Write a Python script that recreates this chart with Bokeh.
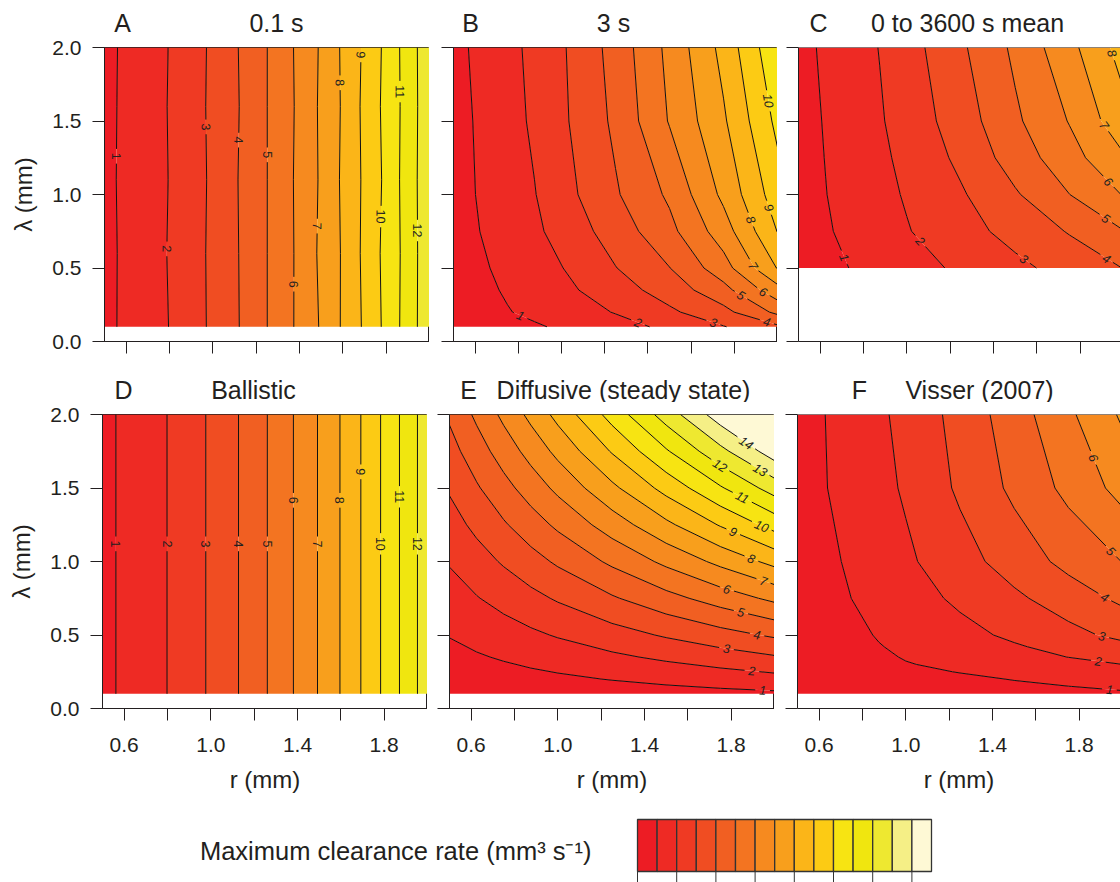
import numpy as np
from contourpy import contour_generator
from bokeh.plotting import figure
from bokeh.layouts import column, row
from bokeh.models import Range1d, FixedTicker, CustomJSTickFormatter, Span
from bokeh.core.properties import value
from bokeh.embed import file_html
from bokeh.resources import INLINE

# ---------------------------------------------------------------- data
CB_LEVELS = list(range(0, 16))
PALETTE = ["#ED1C24", "#EE2A24", "#EF3A23", "#F04D22", "#F15F22", "#F37421",
           "#F68A1F", "#F89F1C", "#FBB518", "#FCCB14", "#F7E412", "#F0E60F",
           "#EEE830", "#F5EF86", "#FEF9D5"]
FILL_LEVELS = list(range(0, 15)) + [20]
LINE_LEVELS = list(range(1, 15))

X_TICKS = [0.6, 0.8, 1.0, 1.2, 1.4, 1.6, 1.8, 2.0]
Y_TICKS = [0.0, 0.5, 1.0, 1.5, 2.0]

R16 = [0.5, 0.6, 0.7, 0.8, 0.9, 1.0, 1.1, 1.2, 1.3, 1.4, 1.5, 1.6, 1.7, 1.8, 1.9, 2.0]
R9 = [0.5, 0.625, 0.75, 0.875, 1.0, 1.25, 1.5, 1.75, 2.0]

# A: 0.1 s
A_LAM = [0.1, 0.6, 1.1, 1.6, 2.0]
A_Z = [
    [0.80, 1.15, 1.57, 2.02, 2.58, 3.18, 3.83, 4.60, 5.38, 6.22, 7.10, 8.12, 9.15, 10.25, 11.45, 12.70],
    [0.80, 1.14, 1.58, 2.06, 2.55, 3.22, 3.86, 4.58, 5.40, 6.21, 7.20, 8.10, 9.22, 10.30, 11.38, 12.75],
    [0.81, 1.16, 1.56, 2.03, 2.60, 3.16, 3.88, 4.62, 5.36, 6.25, 7.13, 8.16, 9.17, 10.22, 11.48, 12.68],
    [0.80, 1.15, 1.59, 2.05, 2.57, 3.21, 3.84, 4.57, 5.41, 6.19, 7.17, 8.11, 9.23, 10.28, 11.40, 12.72],
    [0.79, 1.14, 1.57, 2.03, 2.59, 3.17, 3.87, 4.61, 5.37, 6.24, 7.12, 8.15, 9.16, 10.24, 11.46, 12.69],
]

# B: 3 s
B_LAM = [0.1, 0.2, 0.35, 0.5, 0.75, 1.0, 1.5, 2.0]
B_Z = [
    [0.25, 0.38, 0.63, 0.88, 1.14, 1.64, 2.21, 2.95, 3.82],
    [0.40, 0.67, 0.95, 1.22, 1.49, 2.05, 2.82, 3.70, 5.23],
    [0.46, 0.78, 1.10, 1.42, 1.74, 2.55, 3.45, 4.67, 6.64],
    [0.50, 0.87, 1.24, 1.60, 1.97, 2.97, 3.98, 5.58, 8.05],
    [0.60, 1.01, 1.42, 1.82, 2.33, 3.46, 4.72, 6.53, 9.03],
    [0.65, 1.08, 1.52, 1.96, 2.61, 3.89, 5.17, 7.23, 9.55],
    [0.65, 1.14, 1.63, 2.16, 2.81, 4.20, 6.07, 7.86, 10.25],
    [0.73, 1.22, 1.71, 2.25, 2.87, 4.37, 6.27, 8.31, 10.85],
]

# C: 0 to 3600 s mean
C_LAM = [0.5, 0.75, 1.0, 1.25, 1.5, 2.0]
C_Z = [
    [0.48, 0.76, 1.04, 1.32, 1.60, 2.17, 2.76, 3.37, 4.02],
    [0.56, 0.90, 1.25, 1.60, 1.94, 2.63, 3.33, 4.07, 4.97],
    [0.61, 0.98, 1.35, 1.72, 2.09, 2.89, 3.89, 4.99, 6.05],
    [0.63, 1.02, 1.42, 1.81, 2.24, 3.22, 4.46, 5.62, 6.89],
    [0.64, 1.06, 1.48, 1.91, 2.40, 3.50, 4.83, 6.05, 7.67],
    [0.71, 1.15, 1.59, 2.03, 2.58, 3.84, 5.20, 6.70, 8.42],
]

# D: ballistic
D_LAM = [0.1, 2.0]
D_ROW = [0.79, 1.13, 1.54, 2.01, 2.54, 3.14, 3.80, 4.52, 5.31, 6.16, 7.07, 8.04, 9.08, 10.18, 11.34, 12.57]
D_Z = [D_ROW, D_ROW]

# E: diffusive (steady state)
E_LAM = [0.1, 0.2, 0.35, 0.5, 0.75, 1.0, 1.25, 1.5, 1.75, 2.0]
E_Z = [
    [0.21, 0.26, 0.31, 0.36, 0.42, 0.52, 0.62, 0.73, 0.83],
    [0.42, 0.52, 0.62, 0.73, 0.83, 1.04, 1.25, 1.45, 1.66],
    [0.73, 0.91, 1.09, 1.27, 1.45, 1.82, 2.18, 2.54, 2.91],
    [1.04, 1.30, 1.56, 1.82, 2.08, 2.59, 3.11, 3.63, 4.15],
    [1.56, 1.95, 2.33, 2.72, 3.11, 3.89, 4.67, 5.45, 6.23],
    [2.08, 2.59, 3.11, 3.63, 4.15, 5.19, 6.23, 7.26, 8.30],
    [2.59, 3.24, 3.89, 4.54, 5.19, 6.48, 7.78, 9.08, 10.38],
    [3.11, 3.89, 4.67, 5.45, 6.23, 7.78, 9.34, 10.89, 12.45],
    [3.63, 4.54, 5.45, 6.35, 7.26, 9.08, 10.89, 12.71, 14.53],
    [4.15, 5.19, 6.23, 7.26, 8.30, 10.38, 12.45, 14.53, 16.60],
]

# F: Visser (2007)
F_LAM = [0.1, 0.15, 0.2, 0.25, 0.3, 0.35, 0.42, 0.5, 0.75, 1.0, 1.5, 2.0]
F_Z = [
    [0.18, 0.24, 0.30, 0.35, 0.40, 0.52, 0.64, 0.76, 0.88],
    [0.20, 0.27, 0.34, 0.41, 0.48, 0.64, 0.82, 0.99, 1.15],
    [0.23, 0.28, 0.37, 0.46, 0.57, 0.80, 1.04, 1.26, 1.48],
    [0.27, 0.37, 0.49, 0.62, 0.755, 1.04, 1.27, 1.50, 1.73],
    [0.28, 0.40, 0.55, 0.73, 0.95, 1.21, 1.47, 1.74, 2.00],
    [0.29, 0.43, 0.62, 0.84, 1.06, 1.38, 1.70, 2.01, 2.34],
    [0.31, 0.48, 0.70, 0.96, 1.16, 1.53, 1.90, 2.31, 2.72],
    [0.35, 0.55, 0.79, 1.06, 1.27, 1.71, 2.18, 2.70, 3.27],
    [0.44, 0.69, 1.005, 1.29, 1.58, 2.18, 2.81, 3.51, 4.21],
    [0.50, 0.79, 1.13, 1.48, 1.83, 2.61, 3.45, 4.28, 5.02],
    [0.60, 0.96, 1.33, 1.71, 2.12, 3.16, 4.21, 5.26, 6.34],
    [0.62, 0.99, 1.41, 1.82, 2.29, 3.34, 4.53, 5.81, 7.15],
]

# where each contour label sits (r, lambda)
A_LABELS = {1: (0.557, 1.26), 2: (0.79, 0.63), 3: (0.975, 1.46), 4: (1.115, 1.37), 5: (1.25, 1.27),
            6: (1.375, 0.39), 7: (1.483, 0.785), 8: (1.587, 1.76), 9: (1.683, 1.95), 10: (1.775, 0.85),
            11: (1.862, 1.70), 12: (1.943, 0.755)}
B_LABELS = {1: (0.809, 0.171), 2: (1.351, 0.118), 3: (1.70, 0.114), 4: (1.95, 0.13), 5: (1.814, 0.273),
            6: (1.925, 0.314), 7: (1.884, 0.512), 8: (1.86, 0.82), 9: (1.94, 0.90), 10: (1.93, 1.63)}
C_LABELS = {1: (0.708, 0.57), 2: (1.071, 0.695), 3: (1.544, 0.57), 4: (1.92, 0.56), 5: (1.915, 0.83),
            6: (1.925, 1.08), 7: (1.92, 1.48), 8: (1.946, 1.96)}
D_LABELS = {1: (0.56, 1.12), 2: (0.8, 1.12), 3: (0.975, 1.12), 4: (1.128, 1.12), 5: (1.262, 1.12),
            6: (1.382, 1.416), 7: (1.493, 1.12), 8: (1.597, 1.416), 9: (1.692, 1.61), 10: (1.785, 1.12),
            11: (1.869, 1.44), 12: (1.954, 1.12)}
E_LABELS = {1: (1.945, 0.117), 2: (1.895, 0.243), 3: (1.777, 0.391), 4: (1.918, 0.489), 5: (1.842, 0.636),
            6: (1.777, 0.795), 7: (1.945, 0.85), 8: (1.888, 1.0), 9: (1.803, 1.18), 10: (1.935, 1.22),
            11: (1.842, 1.41), 12: (1.741, 1.636), 13: (1.925, 1.60), 14: (1.857, 1.78)}
F_LABELS = {1: (1.94, 0.128), 2: (1.887, 0.306), 3: (1.905, 0.49), 4: (1.915, 0.75), 5: (1.94, 1.06),
            6: (1.857, 1.70)}

# ---------------------------------------------------------------- style
FONT = "Liberation Sans"
INK = "#231F20"


def fmt_x():
    return CustomJSTickFormatter(code="const k = Math.round(tick*10); return (k % 4 == 2) ? (k/10).toFixed(1) : '';")


def fmt_y():
    return CustomJSTickFormatter(code="return tick.toFixed(1);")


def fmt_blank():
    return CustomJSTickFormatter(code="return '';")


def make_panel(width, left, height, top, bottom, x_end, xlab, ylab, clipped):
    p = figure(width=width, height=height, x_range=Range1d(0.5, x_end), y_range=Range1d(0.0, 2.0),
               output_backend="svg", toolbar_location=None,
               min_border_left=left, min_border_right=0, min_border_top=top, min_border_bottom=bottom)
    p.grid.visible = False
    p.background_fill_color = "white"
    p.border_fill_color = "white"
    if clipped:
        p.outline_line_color = None
        p.add_layout(Span(location=2.0, dimension="width", line_color=INK, line_width=1))
    else:
        p.outline_line_color = INK
        p.outline_line_width = 1
        p.outline_line_alpha = 1.0
    xa, ya = p.xaxis[0], p.yaxis[0]
    xa.ticker = FixedTicker(ticks=X_TICKS)
    ya.ticker = FixedTicker(ticks=Y_TICKS)
    for ax in (xa, ya):
        ax.major_tick_out = 12
        ax.major_tick_in = 0
        ax.minor_tick_out = 0
        ax.minor_tick_in = 0
        ax.axis_line_color = INK
        ax.major_tick_line_color = INK
        ax.major_label_text_font = FONT
        ax.major_label_text_color = INK
        ax.axis_label_text_font = FONT
        ax.axis_label_text_font_style = "normal"
        ax.axis_label_text_color = INK
        ax.axis_label_text_font_size = "24px"
    if xlab:
        xa.formatter = fmt_x()
        xa.major_label_text_font_size = "21px"
        xa.major_label_standoff = 17
        xa.axis_label = "r (mm)"
        xa.axis_label_standoff = 11
    else:
        xa.formatter = fmt_blank()
        xa.major_label_text_font_size = "1px"
        xa.major_label_standoff = 0
    if ylab:
        ya.formatter = fmt_y()
        ya.major_label_text_font_size = "21px"
        ya.major_label_standoff = 11
        ya.axis_label = "λ (mm)"
        ya.axis_label_standoff = 12
    else:
        ya.formatter = fmt_blank()
        ya.major_label_text_font_size = "1px"
        ya.major_label_standoff = 0
    return p


def fill_and_lines(p, rs, lams, zrows, labels, frame_w, frame_h, x_end, italic):
    rs = np.asarray(rs, float)
    lams = np.asarray(lams, float)
    Z = np.asarray(zrows, float)
    p.contour(rs, lams, Z, levels=FILL_LEVELS, fill_color=PALETTE, line_color=None)

    sx = frame_w / (x_end - 0.5)
    sy = frame_h / 2.0
    gen = contour_generator(x=rs, y=lams, z=Z)
    line_xs, line_ys = [], []
    tx, ty, tt, ta = [], [], [], []
    for lev in LINE_LEVELS:
        segs = [np.asarray(s, float) for s in gen.lines(lev) if len(s) > 1]
        if not segs:
            continue
        scr = [np.column_stack([(s[:, 0] - 0.5) * sx, s[:, 1] * sy]) for s in segs]
        anchor = labels.get(lev)
        cut_idx, s0 = None, None
        if anchor is not None:
            q = np.array([(anchor[0] - 0.5) * sx, anchor[1] * sy])
            best = np.inf
            for k, P in enumerate(scr):
                A, B = P[:-1], P[1:]
                AB = B - A
                L2 = (AB ** 2).sum(1)
                L2[L2 == 0] = 1e-12
                t = np.clip(((q - A) * AB).sum(1) / L2, 0, 1)
                proj = A + t[:, None] * AB
                dist = np.hypot(proj[:, 0] - q[0], proj[:, 1] - q[1])
                i = int(np.argmin(dist))
                if dist[i] < best:
                    cum = np.concatenate([[0.0], np.cumsum(np.sqrt(L2))])
                    best, cut_idx, s0 = dist[i], k, cum[i] + t[i] * np.sqrt(L2[i])
        for k, P in enumerate(scr):
            pieces = [P]
            if k == cut_idx:
                d = np.hypot(np.diff(P[:, 0]), np.diff(P[:, 1]))
                cum = np.concatenate([[0.0], np.cumsum(d)])
                L = cum[-1]

                def at(s):
                    s = min(max(s, 0.0), L)
                    i = int(np.searchsorted(cum, s, side="right") - 1)
                    i = min(max(i, 0), len(d) - 1)
                    f = 0.0 if d[i] == 0 else (s - cum[i]) / d[i]
                    return P[i] + f * (P[i + 1] - P[i])

                txt = str(lev)
                h = len(txt) * 6.7 / 2 + 4
                a, b = s0 - h, s0 + h
                pieces = []
                if a > 0:
                    pieces.append(np.vstack([P[cum < a], at(a)]))
                if b < L:
                    pieces.append(np.vstack([at(b), P[cum > b]]))
                c = at(s0)
                pa, pb = at(s0 - 3), at(s0 + 3)
                ang = np.arctan2(pb[1] - pa[1], pb[0] - pa[0])
                if ang > np.radians(85):
                    ang -= np.pi
                elif ang <= np.radians(-95):
                    ang += np.pi
                tx.append(c[0] / sx + 0.5)
                ty.append(c[1] / sy)
                tt.append(txt)
                ta.append(float(ang))
            for piece in pieces:
                if len(piece) > 1:
                    line_xs.append(piece[:, 0] / sx + 0.5)
                    line_ys.append(piece[:, 1] / sy)
    p.multi_line(xs=line_xs, ys=line_ys, line_color="#111111", line_width=1)
    p.text(x=tx, y=ty, text=tt, angle=ta, text_align="center", text_baseline="middle",
           text_font=value(FONT), text_font_size="12.5px",
           text_font_style="italic" if italic else "normal", text_color=INK)


def title_strip(height, xs, y, texts):
    s = figure(width=1120, height=height, x_range=Range1d(0, 1120), y_range=Range1d(0, height),
               output_backend="svg", toolbar_location=None, x_axis_type=None, y_axis_type=None,
               min_border_left=0, min_border_right=0, min_border_top=0, min_border_bottom=0)
    s.grid.visible = False
    s.outline_line_color = None
    s.text(x=xs, y=[y] * len(xs), text=texts, text_align="center", text_baseline="middle",
           text_font=value(FONT), text_font_size="25px", text_color=INK)
    return s


# ---------------------------------------------------------------- panels
top1 = title_strip(35, [122, 276, 470, 613, 818, 967], 13,
                   ["A", "0.1 s", "B", "3 s", "C", "0 to 3600 s mean"])

pa = make_panel(429, 104, 336, 12, 30, 2.0, False, True, False)
fill_and_lines(pa, R16, A_LAM, A_Z, A_LABELS, 325, 294, 2.0, False)

pb = make_panel(348, 24, 336, 12, 30, 2.0, False, False, False)
fill_and_lines(pb, R9, B_LAM, B_Z, B_LABELS, 324, 294, 2.0, True)

c_end = 0.5 + 322 / 216.67
pc = make_panel(343, 21, 336, 12, 30, c_end, False, False, True)
fill_and_lines(pc, R9, C_LAM, C_Z, C_LABELS, 322, 294, c_end, True)

top2 = title_strip(31, [123, 253, 468, 623, 859, 979], 13,
                   ["D", "Ballistic", "E", "Diffusive (steady state)", "F", "Visser (2007)"])

pd = make_panel(427, 102, 401, 12, 95, 2.0, True, True, False)
fill_and_lines(pd, R16, D_LAM, D_Z, D_LABELS, 325, 294, 2.0, False)

pe = make_panel(347, 22, 401, 12, 95, 2.0, True, False, False)
fill_and_lines(pe, R9, E_LAM, E_Z, E_LABELS, 325, 294, 2.0, True)

f_end = 0.5 + 323 / 216.67
pf = make_panel(346, 23, 401, 12, 95, f_end, True, False, True)
fill_and_lines(pf, R9, F_LAM, F_Z, F_LABELS, 323, 294, f_end, True)

# ---------------------------------------------------------------- colour key
BOX = 294 / 15.0
cb = figure(width=1120, height=79, x_range=Range1d(-637 / BOX, 15 + 189 / BOX),
            y_range=Range1d(-11 / 52.0, 1 + 16 / 52.0),
            output_backend="svg", toolbar_location=None, x_axis_type=None, y_axis_type=None,
            min_border_left=0, min_border_right=0, min_border_top=0, min_border_bottom=0)
cb.grid.visible = False
cb.outline_line_color = None
cb.quad(left=CB_LEVELS[:-1], right=CB_LEVELS[1:], bottom=0, top=1,
        fill_color=PALETTE, line_color="#333333", line_width=1.3)
cb_ticks = CB_LEVELS[::2]
cb.segment(x0=cb_ticks, y0=[0] * len(cb_ticks), x1=cb_ticks, y1=[-0.3] * len(cb_ticks),
           line_color="#333333", line_width=1)
cb.text(x=[-2.35], y=[0.4], text=["Maximum clearance rate (mm³ s⁻¹)"], text_font=value(FONT),
        text_font_size="25.5px", text_align="right", text_baseline="middle", text_color=INK)

layout = column(top1, row(pa, pb, pc), top2, row(pd, pe, pf), cb)

open("out.html", "w").write(file_html(layout, INLINE))
